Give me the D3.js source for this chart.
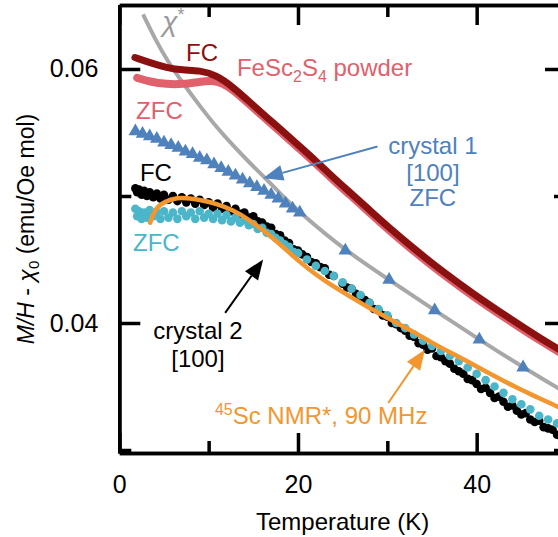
<!DOCTYPE html>
<html>
<head>
<meta charset="utf-8">
<script src="https://cdn.jsdelivr.net/npm/d3@7"></script>
<style>
  body { margin: 0; background: #fff; }
  svg { display: block; font-family: "Liberation Sans", Arial, sans-serif; }
</style>
</head>
<body>
<svg id="chart" width="558" height="537"></svg>
<script>
// chi* (gray line)
var chiStar = [[2.66, 0.0643], [4.2, 0.0621], [5.34, 0.0607], [7.1, 0.0589], [9.0, 0.0571], [10.9, 0.0554],
  [12.7, 0.0540], [14.6, 0.0526], [16.5, 0.0513], [18.0, 0.0502], [20.2, 0.0487], [25.3, 0.0457],
  [30.2, 0.0434], [35.3, 0.0410], [40.3, 0.0387], [45.2, 0.0365], [50, 0.0345]]

// FeSc2S4 powder
var powderZFC = [[2.0, 0.0593], [3.4, 0.0590], [5.3, 0.0588], [7.1, 0.0588], [9.0, 0.0590], [10.5, 0.0591],
  [11.5, 0.0589], [12.7, 0.0584], [14.6, 0.0572], [16.5, 0.0560], [18.3, 0.0549], [20.2, 0.0537],
  [22.1, 0.0525], [23.9, 0.0513], [25.8, 0.0501], [28.0, 0.0487], [30.2, 0.0473], [32.9, 0.0457],
  [35.9, 0.0440], [39.6, 0.0421], [43.4, 0.0403], [47.1, 0.0386], [50, 0.0374]]
var powderFC = [[1.75, 0.0609], [3.4, 0.0605], [5.3, 0.0601], [7.1, 0.0599], [9.0, 0.0599], [10.9, 0.0595],
  [12.7, 0.0586], [14.6, 0.0574], [16.5, 0.0562], [18.3, 0.0551], [20.2, 0.0539], [22.1, 0.0527],
  [23.9, 0.0515], [25.8, 0.0503], [28.0, 0.0489], [30.2, 0.0475], [32.9, 0.0459], [35.9, 0.0442],
  [39.6, 0.0423], [43.4, 0.0405], [47.1, 0.0388], [50, 0.0376]]

// crystal 1 [100] ZFC (triangles)
var crystal1 = [[1.8, 0.0551], [2.6, 0.0549], [3.4, 0.0547], [4.2, 0.0545], [5.0, 0.0542], [5.8, 0.0540],
  [6.6, 0.0538], [7.4, 0.0535], [8.2, 0.0533], [9.0, 0.0530], [9.8, 0.0528], [10.6, 0.0525],
  [11.4, 0.0522], [12.2, 0.0519], [13.0, 0.0516], [13.8, 0.0513], [14.6, 0.0510], [15.4, 0.0507],
  [16.2, 0.0504], [17.0, 0.0501], [17.8, 0.0498], [18.6, 0.0494], [19.4, 0.0490], [20.2, 0.0487],
  [25.3, 0.0457], [30.2, 0.0434], [35.3, 0.0410], [40.3, 0.0387], [45.2, 0.0365]]

// crystal 2 [100] FC (black dots)
var crystal2FC = [[1.8, 0.0506], [2.0, 0.0503], [2.2, 0.0505], [2.5, 0.0501], [2.8, 0.0504], [3.1, 0.0500],
  [3.4, 0.0503], [3.8, 0.0499], [4.2, 0.0502], [4.6, 0.0498], [5.0, 0.0501], [5.5, 0.0497], [6.0, 0.0500],
  [6.5, 0.0496], [7.0, 0.0499], [7.5, 0.0495], [8.0, 0.0498], [8.5, 0.0494], [9.0, 0.0497], [9.5, 0.0493],
  [10.0, 0.0495], [10.5, 0.0491], [11.0, 0.0494], [11.5, 0.0490], [12.0, 0.0492], [12.5, 0.0488],
  [13.0, 0.0490], [13.5, 0.0486], [14.0, 0.0487], [14.5, 0.0483], [15.0, 0.0484], [15.5, 0.0480],
  [16.0, 0.0479], [16.5, 0.0476], [17.0, 0.0475], [17.5, 0.0470], [18.0, 0.0469], [18.5, 0.0465],
  [19.0, 0.0463], [19.5, 0.0458], [20.0, 0.0457], [20.5, 0.0454], [21.0, 0.0452], [21.5, 0.0448],
  [22.0, 0.0447], [22.5, 0.0444], [23.0, 0.0443], [23.5, 0.0438], [24.0, 0.0437], [25.0, 0.0431],
  [25.5, 0.0428], [26.0, 0.0427], [26.5, 0.0423], [27.0, 0.0421], [27.5, 0.0418], [28.0, 0.0416],
  [28.5, 0.0411], [29.0, 0.0410], [29.5, 0.0406], [30.0, 0.0405], [30.5, 0.0400], [31.0, 0.0399],
  [31.5, 0.0396], [32.0, 0.0394], [32.5, 0.0390], [33.0, 0.0389], [33.5, 0.0384], [34.0, 0.0383],
  [34.5, 0.0379], [35.0, 0.0380], [35.5, 0.0374], [36.0, 0.0373], [36.5, 0.0370], [37.0, 0.0368],
  [37.5, 0.0364], [38.0, 0.0362], [38.5, 0.0360], [39.0, 0.0356], [39.5, 0.0355], [40.0, 0.0352],
  [40.5, 0.0348], [41.0, 0.0349], [41.5, 0.0345], [42.0, 0.0341], [42.5, 0.0342], [43.0, 0.0338],
  [43.5, 0.0334], [44.0, 0.0335], [44.5, 0.0331], [45.0, 0.0328], [45.5, 0.0329], [46.0, 0.0324],
  [46.5, 0.0322], [47.0, 0.0323], [47.5, 0.0318], [48.0, 0.0317], [48.5, 0.0316], [49.0, 0.0312],
  [49.5, 0.0310]]

// crystal 2 [100] ZFC (cyan dots)
var crystal2ZFC = [[1.8, 0.0490], [2.0, 0.0484], [2.2, 0.0488], [2.5, 0.0482], [2.8, 0.0487], [3.1, 0.0483],
  [3.4, 0.0489], [3.8, 0.0484], [4.2, 0.0487], [4.6, 0.0482], [5.0, 0.0488], [5.5, 0.0483], [6.0, 0.0487],
  [6.5, 0.0482], [7.0, 0.0488], [7.5, 0.0484], [8.0, 0.0487], [8.5, 0.0482], [9.0, 0.0488], [9.5, 0.0483],
  [10.0, 0.0486], [10.5, 0.0482], [11.0, 0.0486], [11.5, 0.0481], [12.0, 0.0485], [12.5, 0.0480],
  [13.0, 0.0483], [13.5, 0.0479], [14.0, 0.0481], [14.5, 0.0477], [15.0, 0.0478], [15.5, 0.0474],
  [16.0, 0.0475], [16.5, 0.0471], [17.0, 0.0470], [17.5, 0.0467], [18.0, 0.0465], [18.5, 0.0462],
  [19.0, 0.0460], [19.5, 0.0456], [20.0, 0.0455], [21.0, 0.0450], [22.0, 0.0445], [23.0, 0.0441],
  [24.0, 0.0437], [25.0, 0.0432], [26.0, 0.0427], [27.0, 0.0422], [28.0, 0.0416], [29.0, 0.0411],
  [30.0, 0.0406], [31.0, 0.0400], [32.0, 0.0396], [33.0, 0.0391], [34.0, 0.0386], [35.0, 0.0382],
  [36.0, 0.0378], [37.0, 0.0374], [38.0, 0.0370], [39.0, 0.0365], [40.0, 0.0360], [41.0, 0.0355],
  [42.0, 0.0350], [43.0, 0.0345], [44.0, 0.0340], [45.0, 0.0336], [46.0, 0.0332], [47.0, 0.0327],
  [48.0, 0.0324], [49.0, 0.0321], [50.0, 0.0318]]

// 45Sc NMR*, 90 MHz (orange line)
var nmr = [[3.45, 0.0479], [4.0, 0.0490], [4.9, 0.0495], [6.5, 0.0499], [8.0, 0.0498], [9.0, 0.0497],
  [10.9, 0.0494], [12.7, 0.0489], [14.6, 0.0481], [16.5, 0.0471], [18.3, 0.0460], [20.2, 0.0448],
  [22.0, 0.0438], [23.9, 0.0429], [25.8, 0.0421], [27.7, 0.0413], [29.5, 0.0406], [31.3, 0.0399],
  [33.2, 0.0392], [35.1, 0.0384], [37.0, 0.0377], [38.9, 0.0370], [40.7, 0.0363], [42.6, 0.0356],
  [44.5, 0.0349], [46.3, 0.0343], [48.2, 0.0337], [50.0, 0.0331]]

var xMajor = [0, 20, 40]
var xMinor = [10, 30, 50]
var yMajor = [0.04, 0.06]
var yMinor = [0.03, 0.05]

var x = d3.scaleLinear()
  .domain([0, 50])
  .range([119.3, 566])
var y = d3.scaleLinear()
  .domain([0.029764, 0.065039])
  .range([453, 5])

var svg = d3.select('#chart')

svg.append('defs').append('clipPath').attr('id', 'plot-clip')
  .append('rect')
  .attr('x', x(0)).attr('y', y.range()[1])
  .attr('width', x(50) - x(0)).attr('height', y.range()[0] - y.range()[1])

var plot = svg.append('g').attr('clip-path', 'url(#plot-clip)')

var line = d3.line()
  .x(function (d) { return x(d[0]) })
  .y(function (d) { return y(d[1]) })
  .curve(d3.curveBasis)

plot.append('path').datum(chiStar)
  .attr('d', line).attr('fill', 'none')
  .attr('stroke', '#a8a8a8').attr('stroke-width', 4)

plot.append('path').datum(powderZFC)
  .attr('d', line).attr('fill', 'none')
  .attr('stroke', '#e0606c').attr('stroke-width', 8)
  .attr('stroke-linecap', 'round')

plot.append('path').datum(powderFC)
  .attr('d', line).attr('fill', 'none')
  .attr('stroke', '#8b1010').attr('stroke-width', 7)
  .attr('stroke-linecap', 'round')

plot.selectAll('.tri').data(crystal1).enter().append('path')
  .attr('class', 'tri')
  .attr('d', d3.symbol().type(d3.symbolTriangle).size(80))
  .attr('transform', function (d) { return 'translate(' + x(d[0]) + ',' + y(d[1]) + ')' })
  .attr('fill', '#4f81bd')

plot.selectAll('.fc2').data(crystal2FC).enter().append('circle')
  .attr('class', 'fc2')
  .attr('cx', function (d) { return x(d[0]) })
  .attr('cy', function (d) { return y(d[1]) })
  .attr('r', 4.3)
  .attr('fill', '#000')

plot.selectAll('.zfc2').data(crystal2ZFC).enter().append('circle')
  .attr('class', 'zfc2')
  .attr('cx', function (d) { return x(d[0]) })
  .attr('cy', function (d) { return y(d[1]) })
  .attr('r', 4.3)
  .attr('fill', '#4bb6ca')

plot.append('path').datum(nmr)
  .attr('d', line).attr('fill', 'none')
  .attr('stroke', '#f3962e').attr('stroke-width', 4.5)
  .attr('stroke-linecap', 'round')

// axes (ticks point inward, frame from the domain lines)
function styleAxis (g) {
  g.select('.domain').attr('stroke', '#000').attr('stroke-width', 3.5)
  g.selectAll('.tick line').attr('stroke', '#000').attr('stroke-width', 3.5)
  g.selectAll('.tick text').attr('fill', '#000').style('font-size', '25px')
    .style('font-family', '"Liberation Sans", Arial, sans-serif')
}

svg.append('g').attr('transform', 'translate(0,' + y.range()[0] + ')')
  .call(d3.axisBottom(x).tickValues(xMajor).tickSize(-20).tickSizeOuter(0).tickPadding(22)
    .tickFormat(d3.format('d')))
  .call(styleAxis)
svg.append('g').attr('transform', 'translate(0,' + y.range()[0] + ')')
  .call(d3.axisBottom(x).tickValues(xMinor).tickSize(-12).tickSizeOuter(0).tickFormat(''))
  .call(styleAxis)
svg.append('g').attr('transform', 'translate(0,' + y.range()[1] + ')')
  .call(d3.axisTop(x).tickValues(xMajor).tickSize(-20).tickSizeOuter(0).tickFormat(''))
  .call(styleAxis)
svg.append('g').attr('transform', 'translate(0,' + y.range()[1] + ')')
  .call(d3.axisTop(x).tickValues(xMinor).tickSize(-12).tickSizeOuter(0).tickFormat(''))
  .call(styleAxis)

svg.append('g').attr('transform', 'translate(' + x(0) + ',0)')
  .call(d3.axisLeft(y).tickValues(yMajor).tickSize(-21).tickSizeOuter(0).tickPadding(21)
    .tickFormat(d3.format('.2f')))
  .call(styleAxis)
svg.append('g').attr('transform', 'translate(' + x(0) + ',0)')
  .call(d3.axisLeft(y).tickValues(yMinor).tickSize(-12).tickSizeOuter(0).tickFormat(''))
  .call(styleAxis)
svg.append('g').attr('transform', 'translate(' + x(50) + ',0)')
  .call(d3.axisRight(y).tickValues(yMajor).tickSize(-21).tickSizeOuter(0).tickFormat(''))
  .call(styleAxis)
svg.append('g').attr('transform', 'translate(' + x(50) + ',0)')
  .call(d3.axisRight(y).tickValues(yMinor).tickSize(-12).tickSizeOuter(0).tickFormat(''))
  .call(styleAxis)

// axis titles
svg.append('text')
  .attr('x', (x(0) + x(50)) / 2).attr('y', 530)
  .attr('text-anchor', 'middle')
  .style('font-size', '24px')
  .text('Temperature (K)')

var yTitle = svg.append('text')
  .attr('transform', 'translate(34,' + ((y.range()[0] + y.range()[1]) / 2) + ') rotate(-90)')
  .attr('text-anchor', 'middle')
  .style('font-size', '23px')
yTitle.append('tspan').style('font-style', 'italic').text('M/H')
yTitle.append('tspan').text(' - ')
yTitle.append('tspan').style('font-style', 'italic').text('χ')
yTitle.append('tspan').attr('dy', 5).style('font-size', '15px').text('0')
yTitle.append('tspan').attr('dy', -5).text(' (emu/Oe mol)')

// annotations, positioned in data units
function label (t, v, color, anchor) {
  return svg.append('text')
    .attr('x', x(t)).attr('y', y(v))
    .attr('text-anchor', anchor || 'start')
    .attr('fill', color)
    .style('font-size', '24px')
}

label(9.26, 0.06063, '#8b1010', 'middle').text('FC')
var fes = label(13.17, 0.05945, '#e0606c')
fes.append('tspan').text('FeSc')
fes.append('tspan').attr('dy', 6).style('font-size', '16px').text('2')
fes.append('tspan').attr('dy', -6).text('S')
fes.append('tspan').attr('dy', 6).style('font-size', '16px').text('4')
fes.append('tspan').attr('dy', -6).text(' powder')
label(1.88, 0.05606, '#e0606c').text('ZFC')
label(2.31, 0.05118, '#000').text('FC')
label(1.53, 0.04567, '#4bb6ca').text('ZFC')

var chi = label(4.8, 0.0630, '#999')
chi.append('tspan').style('font-style', 'italic').style('font-size', '28px').text('χ')
chi.append('tspan').attr('dy', -10).style('font-size', '18px').text('*')

label(35.1, 0.05331, '#4f81bd', 'middle').text('crystal 1')
label(35.1, 0.05118, '#4f81bd', 'middle').text('[100]')
label(35.1, 0.04921, '#4f81bd', 'middle').text('ZFC')

label(8.8, 0.03874, '#000', 'middle').text('crystal 2')
label(8.8, 0.03653, '#000', 'middle').text('[100]')

var sc = label(10.7, 0.03205, '#f3962e')
sc.append('tspan').attr('dy', -9).style('font-size', '16px').text('45')
sc.append('tspan').attr('dy', 9).text('Sc NMR*, 90 MHz')

// arrows: tail and tip in data units
var arrows = [
  { from: [28.9, 0.0539], to: [16.1, 0.0514], color: '#4f81bd' },
  { from: [11.85, 0.0408], to: [16.1, 0.0450], color: '#000' },
  { from: [30.1, 0.0337], to: [34.2, 0.0379], color: '#f3962e' }
]

arrows.forEach(function (a) {
  var x1 = x(a.from[0]), y1 = y(a.from[1])
  var x2 = x(a.to[0]), y2 = y(a.to[1])
  var ang = Math.atan2(y2 - y1, x2 - x1)
  var headLen = 20, headW = 8
  var bx = x2 - headLen * Math.cos(ang), by = y2 - headLen * Math.sin(ang)
  svg.append('line')
    .attr('x1', x1).attr('y1', y1).attr('x2', bx).attr('y2', by)
    .attr('stroke', a.color).attr('stroke-width', 2)
  var px = -Math.sin(ang) * headW, py = Math.cos(ang) * headW
  svg.append('path')
    .attr('d', 'M' + x2 + ',' + y2 + 'L' + (bx + px) + ',' + (by + py) + 'L' + (bx - px) + ',' + (by - py) + 'Z')
    .attr('fill', a.color)
})
</script>
</body>
</html>
